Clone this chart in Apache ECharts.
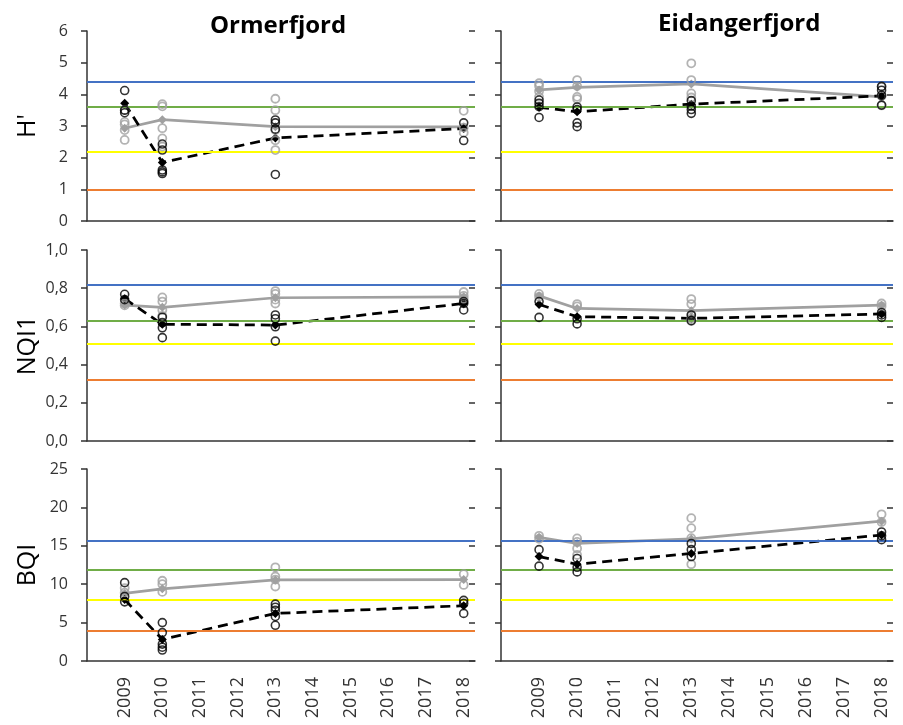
<!DOCTYPE html>
<html>
<head>
<meta charset="utf-8">
<script src="https://cdn.jsdelivr.net/npm/echarts@6/dist/echarts.min.js"></script>
<style>
html, body { margin: 0; padding: 0; background: #fff; }
#chart { width: 903px; height: 725px; }
</style>
</head>
<body>
<div id="chart"></div>
<script>
// sampling years
var years = [2009, 2010, 2013, 2018];
var fjords = ['Ormerfjord', 'Eidangerfjord'];
var indices = ["H'", 'NQI1', 'BQI'];

// class boundaries (blue, green, yellow, orange)
var limH = [4.4, 3.6, 2.2, 1.0];
var limNQI = [0.82, 0.63, 0.51, 0.32];
var limBQI = [15.6, 11.9, 8.0, 4.0];
var limColors = ['#4472C4', '#70AD47', '#FFFF00', '#ED7D31'];

// H' Ormerfjord
var hOrmGrayMean = [2.93, 3.2, 2.98, 2.97];
var hOrmBlackMean = [3.72, 1.85, 2.62, 2.92];
var hOrmGray = [[3.5, 3.13, 3.05, 2.87, 2.56], [3.69, 3.62, 2.93, 2.61, 2.35], [3.86, 3.5, 2.87, 2.55, 2.24], [3.48, 2.95, 2.79]];
var hOrmBlack = [[4.12, 3.5, 3.42], [2.43, 2.24, 1.61, 1.55, 1.5], [3.19, 3.1, 2.9, 1.47], [3.1, 2.54]];

// H' Eidangerfjord
var hEidGrayMean = [4.14, 4.22, 4.33, 3.92];
var hEidBlackMean = [3.59, 3.45, 3.69, 3.95];
var hEidGray = [[4.35, 4.26, 4.1, 3.92], [4.45, 4.26, 3.92, 3.85], [4.98, 4.45, 4.03, 3.9], [4.24, 3.95, 3.65]];
var hEidBlack = [[3.82, 3.72, 3.61, 3.27], [3.6, 3.52, 3.1, 2.98], [3.8, 3.63, 3.52, 3.4], [4.25, 4.13, 3.97, 3.66]];

// NQI1 Ormerfjord
var nOrmGrayMean = [0.712, 0.70, 0.75, 0.755];
var nOrmBlackMean = [0.745, 0.611, 0.607, 0.72];
var nOrmGray = [[0.72, 0.71], [0.752, 0.73, 0.686, 0.655], [0.785, 0.77, 0.74, 0.72], [0.78, 0.76, 0.745]];
var nOrmBlack = [[0.768, 0.74], [0.648, 0.62, 0.593, 0.541], [0.66, 0.64, 0.598, 0.523], [0.73, 0.72, 0.686]];

// NQI1 Eidangerfjord
var nEidGrayMean = [0.76, 0.694, 0.682, 0.711];
var nEidBlackMean = [0.715, 0.651, 0.642, 0.665];
var nEidGray = [[0.77, 0.755], [0.717, 0.705], [0.743, 0.717, 0.66, 0.64, 0.628], [0.72, 0.705]];
var nEidBlack = [[0.73, 0.647], [0.64, 0.613], [0.66, 0.63], [0.673, 0.66, 0.647]];

// BQI Ormerfjord
var bOrmGrayMean = [8.8, 9.4, 10.55, 10.6];
var bOrmBlackMean = [8.0, 2.8, 6.2, 7.2];
var bOrmGray = [[9.5, 8.9], [10.45, 10.0, 9.0], [12.2, 11.0, 10.6, 9.7], [11.3, 9.9]];
var bOrmBlack = [[10.2, 8.4, 7.7], [5.0, 3.7, 2.2, 1.8, 1.43], [7.4, 7.0, 6.6, 5.8, 4.65], [7.9, 7.5, 6.2]];

// BQI Eidangerfjord
var bEidGrayMean = [16.1, 15.3, 15.9, 18.2];
var bEidBlackMean = [13.6, 12.6, 14.0, 16.4];
var bEidGray = [[16.3, 15.9], [15.96, 15.5, 14.65, 13.8], [18.6, 17.3, 16.0, 12.6], [19.1, 18.1]];
var bEidBlack = [[14.5, 12.35], [13.35, 12.2, 11.6], [15.3, 14.5, 13.6], [16.8, 16.3, 15.8]];

var yScales = [
    {min: 0, max: 6, interval: 1, dec: 0, lims: limH},
    {min: 0, max: 1, interval: 0.2, dec: 1, lims: limNQI},
    {min: 0, max: 25, interval: 5, dec: 0, lims: limBQI}
];

var panels = [
    [hOrmGrayMean, hOrmBlackMean, hOrmGray, hOrmBlack],
    [hEidGrayMean, hEidBlackMean, hEidGray, hEidBlack],
    [nOrmGrayMean, nOrmBlackMean, nOrmGray, nOrmBlack],
    [nEidGrayMean, nEidBlackMean, nEidGray, nEidBlack],
    [bOrmGrayMean, bOrmBlackMean, bOrmGray, bOrmBlack],
    [bEidGrayMean, bEidBlackMean, bEidGray, bEidBlack]
];

var cols = [{left: 87, width: 388}, {left: 501, width: 392}];
var rows = [{top: 31, height: 190}, {top: 250, height: 191}, {top: 469, height: 192}];

var font = 'Open Sans';
var axisColor = '#333333';
var grey = '#A0A0A0';

function pairs(vals) {
    return years.map(function (y, i) { return [y, vals[i]]; });
}
function reps(list) {
    var out = [];
    list.forEach(function (vals, i) {
        vals.forEach(function (v) { out.push([years[i], v]); });
    });
    return out;
}

var myChart = echarts.init(document.getElementById('chart'));
var grid = [], xAxis = [], yAxis = [], series = [];

for (var r = 0; r < 3; r++) {
    for (var c = 0; c < 2; c++) {
        var g = r * 2 + c;
        var sc = yScales[r];
        grid.push({left: cols[c].left, width: cols[c].width, top: rows[r].top, height: rows[r].height});
        xAxis.push({
            type: 'value', gridIndex: g, min: 2008, max: 2018.3, interval: 1,
            axisLine: {lineStyle: {color: axisColor, width: 1.5}},
            axisTick: {show: false},
            splitLine: {show: false},
            axisLabel: {
                show: r === 2, rotate: 90, margin: 16, fontSize: 18, color: axisColor, fontFamily: font,
                showMaxLabel: false,
                formatter: function (v) { return v >= 2009 && v <= 2018 && v % 1 === 0 ? String(v) : ''; }
            }
        });
        (function (sc) {
            yAxis.push({
                type: 'value', gridIndex: g, min: sc.min, max: sc.max, interval: sc.interval,
                axisLine: {show: true, lineStyle: {color: axisColor, width: 1.5}},
                axisTick: {show: true, length: 6, lineStyle: {color: axisColor, width: 1.5}},
                splitLine: {show: false},
                axisLabel: {
                    show: c === 0, margin: 19, fontSize: 16, color: axisColor, fontFamily: font,
                    formatter: function (v) { return v.toFixed(sc.dec).replace('.', ','); }
                },
                name: c === 0 ? indices[r] : '', nameLocation: 'middle', nameGap: 47,
                nameTextStyle: {fontSize: 25, color: '#000', fontFamily: font}
            });
        })(sc);
        // inner half of the cross ticks
        yAxis.push({
            type: 'value', gridIndex: g, min: sc.min, max: sc.max, interval: sc.interval,
            axisLine: {show: false},
            axisTick: {show: true, inside: true, length: 6, lineStyle: {color: axisColor, width: 1.5}},
            axisLabel: {show: false}, splitLine: {show: false}
        });
        var yi = g * 2;
        var p = panels[g];
        series.push({
            type: 'line', xAxisIndex: g, yAxisIndex: yi, data: [], silent: true,
            markLine: {
                silent: true, symbol: 'none', label: {show: false}, animation: false,
                data: sc.lims.map(function (v, k) {
                    return {yAxis: v, lineStyle: {color: limColors[k], width: 2, type: 'solid'}};
                })
            }
        });
        series.push({
            type: 'line', xAxisIndex: g, yAxisIndex: yi, data: pairs(p[0]),
            symbol: 'diamond', symbolSize: 9, itemStyle: {color: grey},
            lineStyle: {color: grey, width: 2.75}, z: 3
        });
        series.push({
            type: 'line', xAxisIndex: g, yAxisIndex: yi, data: pairs(p[1]),
            symbol: 'diamond', symbolSize: 9, itemStyle: {color: '#000'},
            lineStyle: {color: '#000', width: 2.75, type: [10, 6]}, z: 4
        });
        series.push({
            type: 'scatter', xAxisIndex: g, yAxisIndex: yi, data: reps(p[2]),
            symbol: 'circle', symbolSize: 8,
            itemStyle: {color: 'rgba(255,255,255,0)', borderColor: grey, borderWidth: 1.8}, z: 5
        });
        series.push({
            type: 'scatter', xAxisIndex: g, yAxisIndex: yi, data: reps(p[3]),
            symbol: 'circle', symbolSize: 8,
            itemStyle: {color: 'rgba(255,255,255,0)', borderColor: '#000', borderWidth: 1.6}, z: 6
        });
    }
}

var option = {
    animation: false,
    backgroundColor: '#fff',
    title: [
        {text: fjords[0], left: 205, top: 9, textStyle: {fontSize: 24, fontWeight: 'bold', color: '#000', fontFamily: font}},
        {text: fjords[1], left: 653, top: 7, textStyle: {fontSize: 24, fontWeight: 'bold', color: '#000', fontFamily: font}}
    ],
    grid: grid,
    xAxis: xAxis,
    yAxis: yAxis,
    series: series
};
myChart.setOption(option);
</script>
</body>
</html>
